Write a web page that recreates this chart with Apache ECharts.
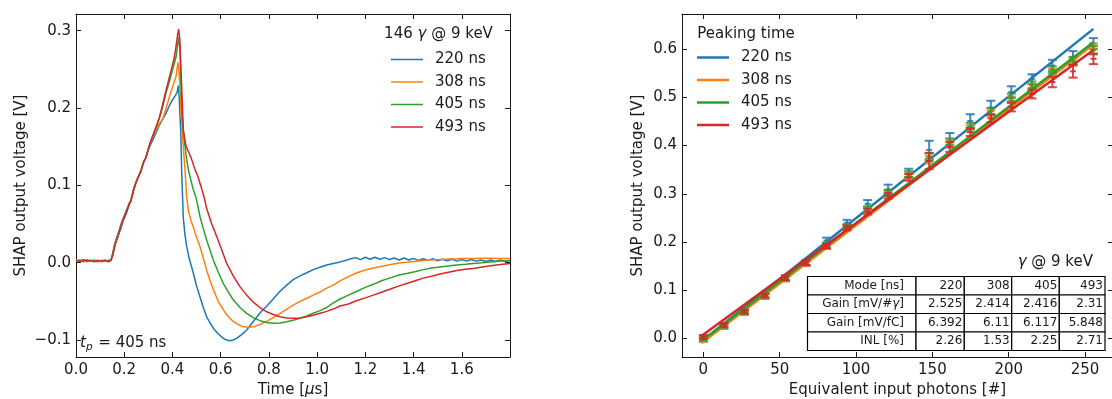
<!DOCTYPE html>
<html>
<head>
<meta charset="utf-8">
<script src="https://cdn.jsdelivr.net/npm/echarts@6/dist/echarts.min.js"></script>
<style>
  html, body { margin: 0; padding: 0; background: #fff; }
  #chart { width: 1112px; height: 399px; }
</style>
</head>
<body>
<div id="chart"></div>
<script>
const FONT = "'DejaVu Sans', sans-serif";
const INK = '#1a1a1a';
const colors = ['#1f77b4', '#ff7f0e', '#2ca02c', '#d62728'];
const peakingNames = ['220 ns', '308 ns', '405 ns', '493 ns'];

// ---- left panel: shaper output for 146 photons, [time us, volts] ----
const wave220 = [[0,0.002],[0.015,0.003],[0.03,0.001],[0.045,0.003],[0.06,0.002],[0.075,0.003],[0.09,0.001],[0.105,0.003],[0.12,0.002],[0.135,0.003],[0.145,0.003],
  [0.152,0.012],[0.159,0.022],[0.166,0.03],[0.173,0.036],[0.18,0.043],[0.187,0.05],[0.194,0.056],[0.207,0.066],[0.221,0.077],[0.228,0.081],[0.238,0.094],[0.249,0.104],[0.26,0.112],[0.27,0.12],[0.28,0.129],[0.29,0.136],[0.3,0.146],[0.311,0.154],[0.318,0.158],[0.332,0.168],[0.346,0.178],[0.36,0.186],[0.373,0.193],[0.387,0.203],[0.401,0.211],[0.412,0.216],[0.42,0.221],[0.424,0.229],
  [0.428,0.214],[0.432,0.185],[0.435,0.165],[0.438,0.12],[0.442,0.085],[0.445,0.058],[0.452,0.036],[0.459,0.021],[0.47,0.005],[0.487,-0.014],[0.5,-0.03],[0.514,-0.044],[0.528,-0.058],[0.542,-0.07],[0.556,-0.078],[0.57,-0.085],[0.59,-0.092],[0.611,-0.098],[0.625,-0.1],[0.639,-0.101],[0.652,-0.1],[0.666,-0.098],[0.687,-0.093],[0.708,-0.087],[0.735,-0.076],[0.763,-0.065],[0.791,-0.056],[0.818,-0.047],[0.846,-0.037],[0.874,-0.029],[0.901,-0.022],[0.929,-0.017],[0.957,-0.013],[0.984,-0.009],[1.012,-0.006],[1.04,-0.003],[1.067,-0.001],[1.095,0.001],
  [1.12,0.003],[1.14,0.005],[1.16,0.0065],[1.18,0.004],[1.2,0.007],[1.22,0.0045],[1.24,0.007],[1.26,0.0045],[1.28,0.0065],[1.3,0.004],[1.32,0.006],[1.34,0.0035],[1.36,0.006],[1.38,0.0035],[1.4,0.0055],[1.42,0.003],[1.44,0.005],[1.46,0.003],[1.48,0.005],[1.5,0.0025],[1.52,0.0045],[1.54,0.0025],[1.56,0.0045],[1.58,0.002],[1.6,0.004],[1.62,0.002],[1.64,0.004],[1.66,0.002],[1.68,0.0035],[1.7,0.0015],[1.72,0.0035],[1.74,0.0015],[1.76,0.0035],[1.78,0.0015],[1.8,0.003]];

const wave308 = [[0,0.003],[0.015,0.002],[0.03,0.003],[0.045,0.001],[0.06,0.003],[0.075,0.002],[0.09,0.003],[0.105,0.001],[0.12,0.003],[0.135,0.002],[0.145,0.003],
  [0.152,0.01],[0.159,0.02],[0.166,0.028],[0.173,0.033],[0.18,0.04],[0.187,0.046],[0.194,0.054],[0.207,0.063],[0.221,0.076],[0.228,0.08],[0.238,0.093],[0.249,0.104],[0.26,0.112],[0.27,0.119],[0.28,0.13],[0.29,0.136],[0.3,0.147],[0.311,0.157],[0.322,0.165],[0.332,0.171],[0.346,0.18],[0.36,0.186],[0.373,0.199],[0.387,0.214],[0.401,0.228],[0.415,0.241],[0.423,0.259],
  [0.428,0.245],[0.435,0.2],[0.44,0.175],[0.445,0.15],[0.452,0.12],[0.459,0.085],[0.466,0.068],[0.477,0.054],[0.487,0.046],[0.5,0.033],[0.514,0.021],[0.528,0.006],[0.542,-0.01],[0.556,-0.023],[0.57,-0.035],[0.59,-0.05],[0.611,-0.061],[0.632,-0.07],[0.652,-0.076],[0.673,-0.08],[0.694,-0.083],[0.715,-0.0835],[0.735,-0.083],[0.763,-0.08],[0.791,-0.076],[0.818,-0.071],[0.846,-0.066],[0.874,-0.06],[0.901,-0.055],[0.929,-0.05],[0.957,-0.046],[0.984,-0.042],[1.012,-0.038],[1.04,-0.033],[1.067,-0.029],[1.095,-0.0235],
  [1.13,-0.018],[1.165,-0.013],[1.2,-0.0095],[1.233,-0.0068],[1.27,-0.0045],[1.31,-0.002],[1.34,-0.0005],[1.372,0.0005],[1.41,0.0018],[1.44,0.0028],[1.475,0.0035],[1.51,0.0042],[1.55,0.0048],[1.58,0.005],[1.615,0.0055],[1.65,0.0055],[1.685,0.0058],[1.72,0.0058],[1.76,0.0055],[1.8,0.0055]];

const wave405 = [[0,0.002],[0.015,0.003],[0.03,0.002],[0.045,0.004],[0.06,0.002],[0.075,0.003],[0.09,0.002],[0.105,0.002],[0.12,0.003],[0.135,0.002],[0.145,0.003],
  [0.152,0.01],[0.159,0.02],[0.166,0.028],[0.173,0.033],[0.18,0.04],[0.187,0.046],[0.194,0.054],[0.207,0.063],[0.221,0.076],[0.228,0.08],[0.238,0.093],[0.249,0.104],[0.26,0.112],[0.27,0.119],[0.28,0.13],[0.29,0.136],[0.3,0.147],[0.311,0.158],[0.322,0.167],[0.332,0.175],[0.346,0.187],[0.36,0.202],[0.373,0.219],[0.387,0.234],[0.401,0.25],[0.415,0.266],[0.42,0.278],[0.426,0.2915],
  [0.431,0.275],[0.437,0.215],[0.44,0.192],[0.448,0.162],[0.456,0.14],[0.466,0.12],[0.477,0.106],[0.487,0.094],[0.498,0.084],[0.514,0.06],[0.528,0.044],[0.542,0.029],[0.556,0.016],[0.57,0.003],[0.59,-0.012],[0.611,-0.027],[0.632,-0.038],[0.652,-0.048],[0.68,-0.058],[0.708,-0.0655],[0.735,-0.071],[0.763,-0.075],[0.791,-0.0775],[0.818,-0.0785],[0.846,-0.078],[0.874,-0.0765],[0.901,-0.0745],[0.929,-0.072],[0.957,-0.069],[0.984,-0.0655],[1.012,-0.062],[1.04,-0.058],[1.067,-0.052],[1.095,-0.047],
  [1.13,-0.042],[1.165,-0.037],[1.2,-0.032],[1.233,-0.028],[1.27,-0.023],[1.31,-0.019],[1.34,-0.016],[1.372,-0.014],[1.41,-0.0115],[1.44,-0.009],[1.475,-0.007],[1.51,-0.0055],[1.55,-0.004],[1.58,-0.003],[1.615,-0.002],[1.648,-0.001],[1.685,0],[1.72,0.001],[1.76,0.002],[1.8,0.0025]];

const wave493 = [[0,0.003],[0.015,0.002],[0.03,0.004],[0.045,0.002],[0.06,0.003],[0.075,0.001],[0.09,0.003],[0.105,0.002],[0.12,0.003],[0.135,0.001],[0.145,0.003],
  [0.152,0.009],[0.159,0.019],[0.166,0.027],[0.173,0.033],[0.18,0.04],[0.187,0.046],[0.194,0.054],[0.207,0.063],[0.221,0.076],[0.228,0.08],[0.238,0.093],[0.249,0.104],[0.26,0.112],[0.27,0.119],[0.28,0.13],[0.29,0.136],[0.3,0.147],[0.311,0.158],[0.322,0.167],[0.332,0.175],[0.346,0.188],[0.353,0.1965],[0.373,0.2224],[0.394,0.248],[0.408,0.2656],[0.415,0.28],[0.422,0.296],[0.426,0.302],
  [0.431,0.287],[0.44,0.214],[0.445,0.171],[0.456,0.151],[0.477,0.136],[0.494,0.12],[0.505,0.112],[0.52,0.097],[0.532,0.084],[0.542,0.07],[0.563,0.05],[0.584,0.0335],[0.605,0.016],[0.625,-0.001],[0.652,-0.017],[0.68,-0.031],[0.708,-0.042],[0.735,-0.051],[0.763,-0.058],[0.791,-0.0635],[0.818,-0.067],[0.846,-0.07],[0.874,-0.0715],[0.901,-0.072],[0.929,-0.0715],[0.957,-0.07],[0.984,-0.068],[1.012,-0.0655],[1.04,-0.063],[1.067,-0.06],[1.095,-0.056],
  [1.13,-0.0535],[1.165,-0.049],[1.2,-0.0455],[1.233,-0.042],[1.27,-0.038],[1.31,-0.0335],[1.34,-0.03],[1.372,-0.027],[1.41,-0.023],[1.44,-0.02],[1.475,-0.0175],[1.51,-0.0147],[1.55,-0.012],[1.58,-0.01],[1.615,-0.0085],[1.648,-0.0074],[1.685,-0.0055],[1.72,-0.004],[1.76,-0.0025],[1.8,-0.001]];

const waves = [wave220, wave308, wave405, wave493];
const timeTicks = [0, 0.2, 0.4, 0.6, 0.8, 1.0, 1.2, 1.4, 1.6];
const leftVoltTicks = [-0.1, 0, 0.1, 0.2, 0.3];

// ---- right panel: linearity scan ----
const photons = [0, 13.4, 26.9, 40.3, 53.8, 67.2, 80.7, 94.1, 107.6, 121, 134.5, 147.9, 161.4, 174.8, 188.3, 201.7, 215.2, 228.6, 242.1, 255.5];
const volt220 = [-0.003, 0.024, 0.053, 0.087, 0.124, 0.156, 0.203, 0.24, 0.279, 0.309, 0.343, 0.391, 0.411, 0.451, 0.479, 0.511, 0.538, 0.566, 0.584, 0.612];
const err220 = [0.004, 0.004, 0.004, 0.005, 0.005, 0.005, 0.006, 0.006, 0.008, 0.01, 0.009, 0.019, 0.015, 0.014, 0.014, 0.012, 0.01, 0.012, 0.012, 0.011];
const volt308 = [-0.002, 0.025, 0.053, 0.087, 0.123, 0.155, 0.192, 0.23, 0.266, 0.3, 0.337, 0.371, 0.404, 0.435, 0.466, 0.495, 0.521, 0.552, 0.573, 0.606];
const err308 = [0.004, 0.004, 0.004, 0.004, 0.005, 0.005, 0.005, 0.005, 0.006, 0.006, 0.006, 0.008, 0.007, 0.007, 0.007, 0.007, 0.007, 0.007, 0.007, 0.006];
const volt405 = [0, 0.026, 0.055, 0.089, 0.125, 0.157, 0.194, 0.232, 0.268, 0.302, 0.341, 0.376, 0.408, 0.44, 0.471, 0.5, 0.526, 0.557, 0.576, 0.598];
const err405 = [0.004, 0.004, 0.004, 0.004, 0.005, 0.005, 0.005, 0.005, 0.006, 0.006, 0.006, 0.008, 0.007, 0.007, 0.007, 0.008, 0.007, 0.007, 0.008, 0.009];
const volt493 = [0.003, 0.028, 0.056, 0.089, 0.126, 0.157, 0.191, 0.229, 0.263, 0.296, 0.334, 0.368, 0.397, 0.428, 0.456, 0.48, 0.507, 0.532, 0.554, 0.58];
const err493 = [0.004, 0.004, 0.004, 0.004, 0.005, 0.005, 0.005, 0.005, 0.006, 0.006, 0.007, 0.017, 0.01, 0.008, 0.008, 0.009, 0.009, 0.011, 0.013, 0.011];
const volts = [volt220, volt308, volt405, volt493];
const errs = [err220, err308, err405, err493];

const fitGain = [2.525, 2.414, 2.416, 2.31];       // mV per photon
const fitOffset = [-0.003, -0.007, -0.003, 0.008]; // V
const fitRange = [-1.3, 255.5];
const photonTicks = [0, 50, 100, 150, 200, 250];
const rightVoltTicks = [0, 0.1, 0.2, 0.3, 0.4, 0.5, 0.6];

// ---- table ----
const tableHead = ['Mode [ns]', 'Gain [mV/#{g|γ}]', 'Gain [mV/fC]', 'INL [%]'];
const modeNs = [220, 308, 405, 493];
const gainCharge = [6.392, 6.11, 6.117, 5.848];
const inlPct = [2.26, 1.53, 2.25, 2.71];
const tableRows = [modeNs, fitGain, gainCharge, inlPct];

const fmt1 = v => (v < 0 ? '\u2212' + (-v).toFixed(1) : v.toFixed(1));
const fmtInt = v => String(Math.round(v));

function axis(gridIndex, position, min, max, ticks, labelFmt, name, nameGap) {
  const a = {
    type: 'value', gridIndex, position, min, max,
    axisLine: { show: true, onZero: false, lineStyle: { color: INK, width: 1 } },
    axisTick: { show: true, inside: true, length: 5, lineStyle: { color: INK, width: 1 }, customValues: ticks },
    axisLabel: { show: false },
    splitLine: { show: false },
  };
  if (labelFmt) {
    a.axisLabel = { show: true, customValues: ticks, formatter: labelFmt, fontFamily: FONT, fontSize: 15, color: INK,
      margin: (position === 'bottom') ? 6 : 5 };
  }
  if (name) {
    a.name = name;
    a.nameLocation = 'middle';
    a.nameGap = nameGap;
    a.nameTextStyle = { fontFamily: FONT, fontSize: 15, color: INK,
      rich: { i: { fontFamily: FONT, fontSize: 15, fontStyle: 'italic', color: INK } } };
  }
  return a;
}

function errorBar(params, api) {
  const x = api.value(0);
  const lo = api.coord([x, api.value(1)]);
  const hi = api.coord([x, api.value(2)]);
  const mid = api.coord([x, api.value(3)]);
  const style = { stroke: api.visual('color'), lineWidth: 2, opacity: 0.85 };
  const cap = 4.5;
  return {
    type: 'group',
    children: [
      { type: 'line', shape: { x1: lo[0], y1: lo[1], x2: hi[0], y2: hi[1] }, style },
      { type: 'line', shape: { x1: lo[0] - cap, y1: lo[1], x2: lo[0] + cap, y2: lo[1] }, style },
      { type: 'line', shape: { x1: hi[0] - cap, y1: hi[1], x2: hi[0] + cap, y2: hi[1] }, style },
      { type: 'line', shape: { x1: mid[0] - 3, y1: mid[1], x2: mid[0] + 3, y2: mid[1] }, style },
    ],
  };
}

const series = [];
waves.forEach((w, i) => {
  series.push({
    type: 'line', name: peakingNames[i], xAxisIndex: 0, yAxisIndex: 0,
    data: w, symbol: 'none', clip: true,
    lineStyle: { color: colors[i], width: 1.5 }, itemStyle: { color: colors[i] },
  });
});
volts.forEach((v, i) => {
  series.push({
    type: 'custom', name: peakingNames[i] + ' data', xAxisIndex: 2, yAxisIndex: 2,
    renderItem: errorBar, itemStyle: { color: colors[i] },
    encode: { x: 0, y: [1, 2] },
    data: photons.map((x, k) => [x, v[k] - errs[i][k], v[k] + errs[i][k], v[k]]),
    z: 2 + i * 2,
  });
  series.push({
    type: 'line', name: peakingNames[i], xAxisIndex: 2, yAxisIndex: 2,
    data: fitRange.map(x => [x, fitOffset[i] + fitGain[i] * x / 1000]),
    symbol: 'none', lineStyle: { color: colors[i], width: 2.5 }, itemStyle: { color: colors[i] },
    z: 3 + i * 2,
  });
});

// table graphics
const colEdges = [807.5, 916, 964.3, 1011.7, 1059.3, 1105];
const rowEdges = [276.5, 295, 313.5, 332, 350.5];
const tableGfx = [];
const cellText = { fontFamily: FONT, fontSize: 12, fill: INK };
for (let r = 0; r < 4; r++) {
  for (let c = 0; c < 5; c++) {
    const x0 = colEdges[c], x1 = colEdges[c + 1], y0 = rowEdges[r], y1 = rowEdges[r + 1];
    tableGfx.push({ type: 'rect', shape: { x: x0, y: y0, width: x1 - x0, height: y1 - y0 },
      style: { fill: '#fff', stroke: '#000', lineWidth: 1.2 }, z: 50 });
    const txt = c === 0 ? tableHead[r] : String(tableRows[r][c - 1]);
    tableGfx.push({ type: 'text', x: c === 0 ? x1 - 12 : x1 - 2, y: (y0 + y1) / 2, z: 51,
      style: Object.assign({ text: txt, align: 'right', verticalAlign: 'middle',
        rich: { g: { fontFamily: FONT, fontSize: 12, fontStyle: 'italic', fill: INK } } }, cellText) });
  }
}

const richItalic = { fontFamily: FONT, fontSize: 15, fontStyle: 'italic', fill: INK };
const graphic = [
  { type: 'text', x: 438.5, y: 34, z: 60,
    style: { text: '146 {g|γ} @ 9 keV', align: 'center', verticalAlign: 'middle', fontFamily: FONT, fontSize: 15, fill: INK, rich: { g: richItalic } } },
  { type: 'text', x: 746, y: 34, z: 60,
    style: { text: 'Peaking time', align: 'center', verticalAlign: 'middle', fontFamily: FONT, fontSize: 15, fill: INK } },
  { type: 'text', x: 1093, y: 262, z: 60,
    style: { text: '{g|γ} @ 9 keV', align: 'right', verticalAlign: 'middle', fontFamily: FONT, fontSize: 15, fill: INK, rich: { g: richItalic } } },
  { type: 'text', x: 80, y: 343, z: 60,
    style: { text: '{t|t}{p|p}{n| = 405 ns}', align: 'left', verticalAlign: 'middle', fontFamily: FONT, fontSize: 15, fill: INK,
      rich: { t: Object.assign({ lineHeight: 20 }, richItalic),
              p: { fontFamily: FONT, fontSize: 10.5, fontStyle: 'italic', fill: INK, lineHeight: 20, verticalAlign: 'bottom', padding: [6, 1, 0, 0] },
              n: { fontFamily: FONT, fontSize: 15, fill: INK, lineHeight: 20 } } } },
].concat(tableGfx);

function legendFor(left, top, iconH) {
  return {
    data: peakingNames, left, top, orient: 'vertical', icon: 'rect', padding: 0,
    itemWidth: 32, itemHeight: iconH, itemGap: 7.5, selectedMode: false,
    textStyle: { fontFamily: FONT, fontSize: 15, color: INK, padding: [0, 0, 0, 7] },
  };
}

const option = {
  backgroundColor: '#fff',
  animation: false,
  textStyle: { fontFamily: FONT },
  grid: [
    { left: 76, top: 14, width: 434, height: 343, containLabel: false, outerBoundsMode: 'none' },
    { left: 682, top: 14, width: 431, height: 343, containLabel: false, outerBoundsMode: 'none' },
  ],
  xAxis: [
    axis(0, 'bottom', 0, 1.8, timeTicks, fmt1, 'Time [{i|μ}s]', 24),
    axis(0, 'top', 0, 1.8, timeTicks),
    axis(1, 'bottom', -14, 268.3, photonTicks, fmtInt, 'Equivalent input photons [#]', 24),
    axis(1, 'top', -14, 268.3, photonTicks),
  ],
  yAxis: [
    axis(0, 'left', -0.122, 0.3216, leftVoltTicks, fmt1, 'SHAP output voltage [V]', 47),
    axis(0, 'right', -0.122, 0.3216, leftVoltTicks),
    axis(1, 'left', -0.0386, 0.673, rightVoltTicks, fmt1, 'SHAP output voltage [V]', 36),
    axis(1, 'right', -0.0386, 0.673, rightVoltTicks),
  ],
  legend: [legendFor(391, 52, 1.5), legendFor(697, 50, 2.5)],
  graphic,
  series,
};

const chart = echarts.init(document.getElementById('chart'), null, { renderer: 'canvas' });
chart.setOption(option);
</script>
</body>
</html>
